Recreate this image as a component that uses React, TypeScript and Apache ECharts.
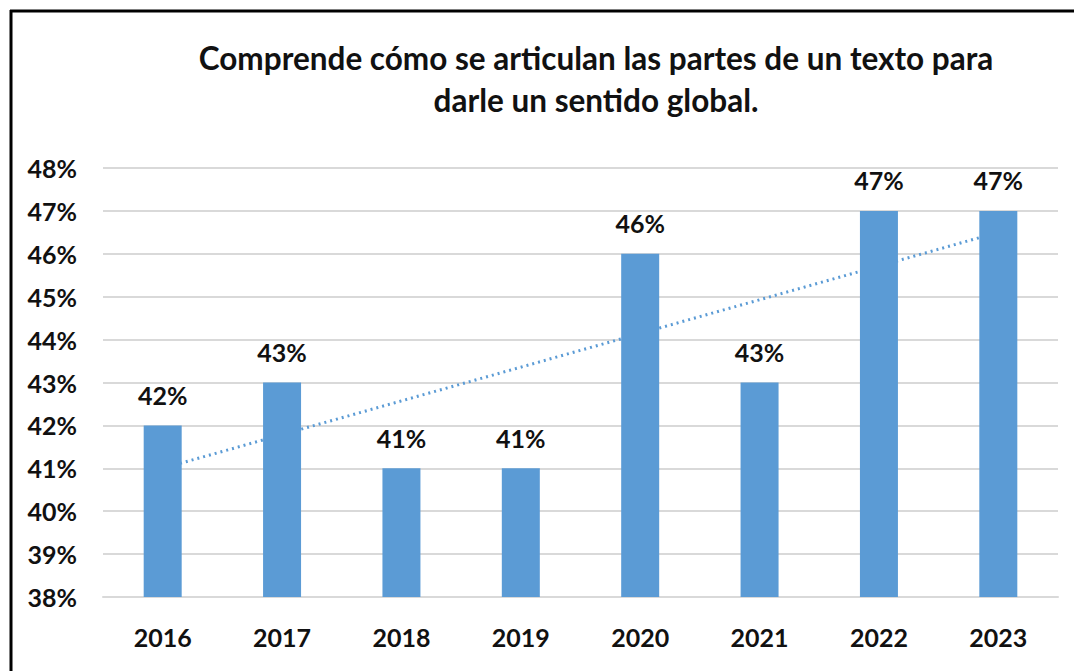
import React, { useEffect, useRef } from "react";
import * as echarts from "echarts";

const titleLines = [
  "Comprende cómo se articulan las partes de un texto para",
  "darle un sentido global.",
];
const years = ["2016", "2017", "2018", "2019", "2020", "2021", "2022", "2023"];
const values = [42, 43, 41, 41, 46, 43, 47, 47];
const trendStart = 41.0;
const trendEnd = 46.5;
const yMin = 38;
const yMax = 48;
const yStep = 1;

const FONT = "Lato, 'Open Sans', sans-serif";

export default function App() {
  const ref = useRef<HTMLDivElement>(null);
  useEffect(() => {
    if (!ref.current) return;
    const chart = echarts.init(ref.current, null, { renderer: "svg" });
    const trendData = years.map((_, i) =>
      i === 0 ? trendStart : i === years.length - 1 ? trendEnd : null
    );
    chart.setOption({
      animation: false,
      backgroundColor: "#ffffff",
      grid: { left: 103, right: 16, top: 168, bottom: 74 },
      graphic: [
        {
          type: "line",
          shape: { x1: 10, y1: 11, x2: 1074, y2: 11 },
          style: { stroke: "#000", lineWidth: 3 },
        },
        {
          type: "line",
          shape: { x1: 11, y1: 10, x2: 11, y2: 671 },
          style: { stroke: "#000", lineWidth: 3 },
        },
        {
          type: "text",
          x: 596,
          y: 79,
          style: {
            text: titleLines.join("\n"),
            textAlign: "center",
            textVerticalAlign: "middle",
            fontFamily: FONT,
            fontWeight: "bold",
            fontSize: 31.5,
            lineHeight: 42,
            fill: "#111",
          },
        },
      ],
      xAxis: {
        type: "category",
        data: years,
        axisLine: { show: true, lineStyle: { color: "#D9D9D9", width: 2 } },
        axisTick: { show: false },
        axisLabel: {
          margin: 27,
          fontFamily: FONT,
          fontWeight: "bold",
          fontSize: 25,
          color: "#111",
        },
      },
      yAxis: {
        type: "value",
        min: yMin,
        max: yMax,
        interval: yStep,
        axisLine: { show: false },
        axisTick: { show: false },
        splitLine: { lineStyle: { color: "#D9D9D9", width: 2 } },
        axisLabel: {
          formatter: "{value}%",
          margin: 26,
          fontFamily: FONT,
          fontWeight: "bold",
          fontSize: 25,
          color: "#111",
        },
      },
      series: [
        {
          type: "line",
          data: trendData,
          connectNulls: true,
          symbol: "none",
          z: 1,
          lineStyle: { color: "#5B9BD5", width: 3, type: [2, 4] },
        },
        {
          type: "bar",
          data: values,
          z: 3,
          barWidth: 38,
          itemStyle: { color: "#5B9BD5" },
          label: {
            show: true,
            position: "top",
            distance: 18,
            formatter: "{c}%",
            fontFamily: FONT,
            fontWeight: "bold",
            fontSize: 25,
            color: "#111",
          },
        },
      ],
    });
    return () => chart.dispose();
  }, []);
  return (
    <div
      ref={ref}
      style={{ position: "fixed", left: 0, top: 0, width: 1074, height: 671 }}
    />
  );
}
